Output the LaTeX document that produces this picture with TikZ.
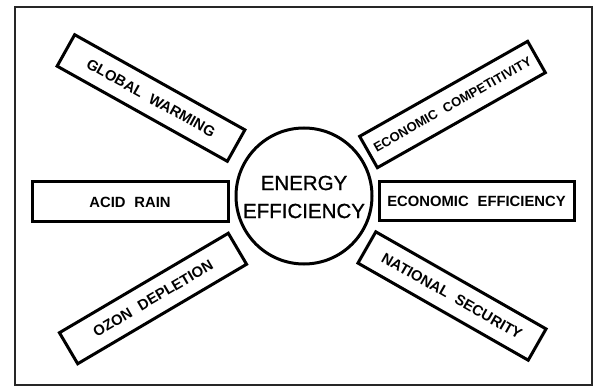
\documentclass[tikz,border=0pt]{standalone}
\usepackage{fontspec}
\setmainfont{Liberation Sans}
% slightly heavier face for the centre title
\newfontfamily\titlefont[FakeBold=0.9]{Liberation Sans}
\begin{document}
\begin{tikzpicture}[x=1pt,y=-1pt,
  issue/.style={draw,line width=3pt,inner sep=0pt,
    font=\fontsize{14.8}{16}\selectfont\bfseries},
  wide/.style={issue,minimum width=195,minimum height=39},
  slant/.style={issue,minimum width=195,minimum height=36},
  hub/.style={draw,circle,line width=3pt,minimum size=136,inner sep=0pt}]
\useasboundingbox (0,0) rectangle (594,387);
% outer frame
\draw[line width=1.6pt,black!85] (15,7) rectangle (592,385);
% central circle
\node[hub] (hub) at (304,196) {};
\node[align=center,font=\titlefont\fontsize{20.5}{28}\selectfont] (title) at (304,197)
  {ENERGY\\EFFICIENCY};
% horizontal boxes
\node[wide,minimum width=196,minimum height=40] (acid) at (130,202) {ACID\hspace{0.6em}RAIN};
\node[wide] (econeff) at (476.5,201.5) {ECONOMIC\hspace{0.6em}EFFICIENCY};
% slanted boxes
\node[slant,rotate=-29.2] (warm) at (151,98) {GLOBAL\hspace{0.6em}WARMING};
\node[slant,rotate=29.5,minimum width=193,font=\fontsize{13}{14}\selectfont\bfseries]
  (compet) at (452.5,104.5) {ECONOMIC\hspace{0.6em}COMPETITIVITY};
\node[slant,rotate=30.5,minimum width=196] (ozon) at (153,298.5) {OZON\hspace{0.6em}DEPLETION};
\node[slant,rotate=-29.7,minimum width=196] (secur) at (452,296) {NATIONAL\hspace{0.6em}SECURITY};
\end{tikzpicture}
\end{document}
